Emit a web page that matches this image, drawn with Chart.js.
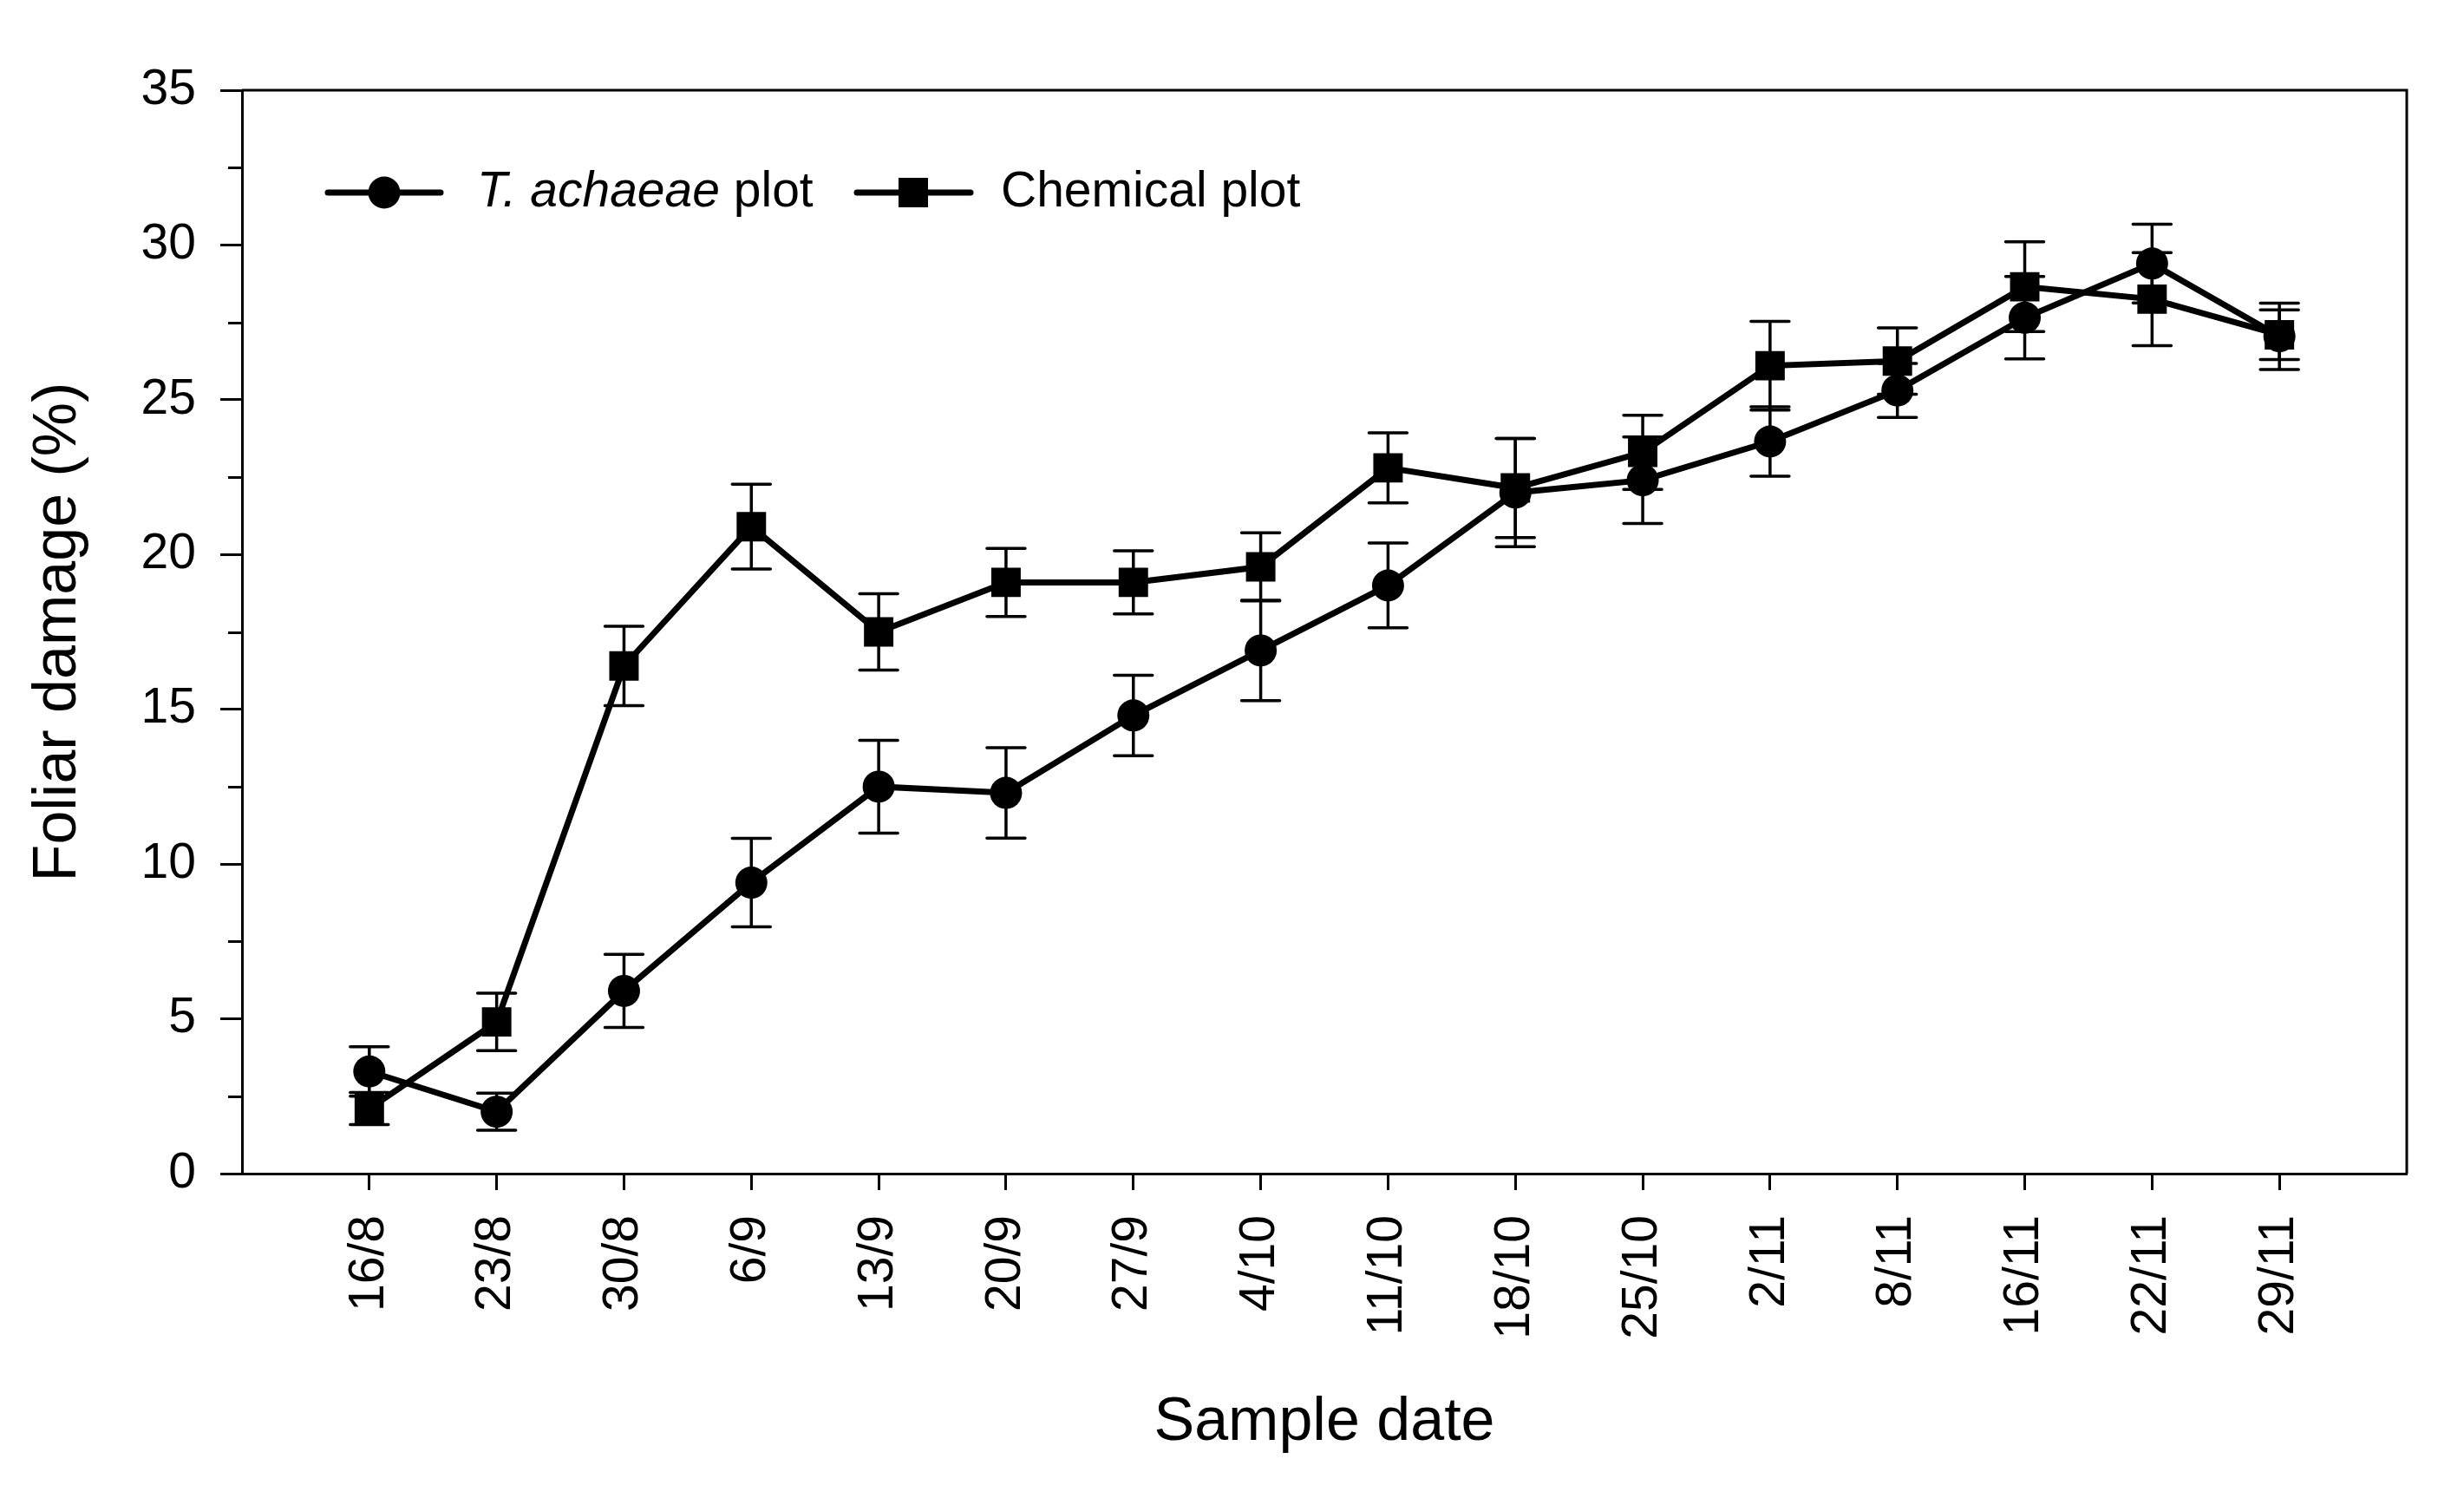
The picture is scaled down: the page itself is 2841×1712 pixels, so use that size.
<!DOCTYPE html>
<html>
<head>
<meta charset="utf-8">
<script src="https://cdn.jsdelivr.net/npm/chart.js@4/dist/chart.umd.min.js"></script>
<style>
  html, body { margin: 0; padding: 0; background: #ffffff; }
  #wrap { width: 2841px; height: 1712px; }
</style>
</head>
<body>
<div id="wrap"><canvas id="c" width="2841" height="1712"></canvas></div>
<script>
// ---- data ----
const categories = ['16/8','23/8','30/8','6/9','13/9','20/9','27/9','4/10','11/10','18/10','25/10','2/11','8/11','16/11','22/11','29/11'];
const tAchaeae    = [3.3, 2.0, 5.9, 9.4, 12.5, 12.3, 14.8, 16.9, 19.0, 22.0, 22.4, 23.65, 25.3, 27.65, 29.4, 27.05];
const tAchaeaeErr = [0.8, 0.6, 1.18, 1.43, 1.5, 1.46, 1.3, 1.62, 1.37, 1.75, 1.4, 1.12, 0.87, 1.33, 1.27, 1.07];
const chemical    = [2.1, 4.9, 16.4, 20.9, 17.5, 19.1, 19.1, 19.6, 22.8, 22.15, 23.3, 26.1, 26.25, 28.65, 28.25, 27.1];
const chemicalErr = [0.52, 0.93, 1.28, 1.37, 1.23, 1.1, 1.02, 1.1, 1.13, 1.6, 1.2, 1.43, 1.07, 1.45, 1.5, 0.8];
const yTicks = [0, 5, 10, 15, 20, 25, 30, 35];
const yMinorTicks = [2.5, 7.5, 12.5, 17.5, 22.5, 27.5, 32.5];
const seriesNames = ['T. achaeae', 'Chemical plot'];

const FONT = "'Liberation Sans', Arial, Helvetica, sans-serif";

const toPoints = (arr) => arr.map((v, i) => ({ x: i + 1, y: v }));

const errorBars = {
  id: 'errorBars',
  beforeDatasetsDraw(chart) {
    const ctx = chart.ctx;
    const xs = chart.scales.x, ys = chart.scales.y;
    const sets = [[tAchaeae, tAchaeaeErr], [chemical, chemicalErr]];
    ctx.save();
    ctx.strokeStyle = '#000';
    ctx.lineWidth = 3.5;
    ctx.lineCap = 'round';
    sets.forEach(([vals, errs]) => {
      vals.forEach((v, i) => {
        const px = xs.getPixelForValue(i + 1);
        const top = ys.getPixelForValue(v + errs[i]);
        const bot = ys.getPixelForValue(v - errs[i]);
        ctx.beginPath();
        ctx.moveTo(px, top); ctx.lineTo(px, bot);
        ctx.moveTo(px - 22, top); ctx.lineTo(px + 22, top);
        ctx.moveTo(px - 22, bot); ctx.lineTo(px + 22, bot);
        ctx.stroke();
      });
    });
    ctx.restore();
  }
};

const frameAndExtras = {
  id: 'frameAndExtras',
  afterDraw(chart) {
    const ctx = chart.ctx;
    const a = chart.chartArea;
    const ys = chart.scales.y;
    ctx.save();
    ctx.strokeStyle = '#000';
    ctx.lineWidth = 3;
    ctx.lineCap = 'butt';
    // top & right frame lines
    ctx.beginPath();
    ctx.moveTo(a.left, a.top); ctx.lineTo(a.right, a.top);
    ctx.lineTo(a.right, a.bottom);
    ctx.stroke();
    // minor y ticks
    ctx.beginPath();
    yMinorTicks.forEach(v => {
      const py = Math.round(ys.getPixelForValue(v)) + 0.5;
      ctx.moveTo(a.left - 16, py); ctx.lineTo(a.left, py);
    });
    ctx.stroke();

    // legend
    const ly = 222;
    ctx.lineWidth = 7;
    ctx.lineCap = 'round';
    ctx.beginPath(); ctx.moveTo(378, ly); ctx.lineTo(508, ly); ctx.stroke();
    ctx.fillStyle = '#000';
    ctx.beginPath(); ctx.arc(443, ly, 18.5, 0, Math.PI * 2); ctx.fill();
    ctx.beginPath(); ctx.moveTo(988, ly); ctx.lineTo(1119, ly); ctx.stroke();
    ctx.fillRect(1053 - 17, ly - 17, 34, 34);

    ctx.textBaseline = 'middle';
    ctx.textAlign = 'left';
    ctx.font = 'italic 57px ' + FONT;
    ctx.fillText(seriesNames[0], 550, ly);
    const w = ctx.measureText(seriesNames[0]).width;
    ctx.font = '57px ' + FONT;
    ctx.fillText(' plot', 550 + w, ly);
    ctx.fillText(seriesNames[1], 1154, ly);
    ctx.restore();
  }
};

const ctx = document.getElementById('c').getContext('2d');
new Chart(ctx, {
  type: 'line',
  data: {
    datasets: [
      {
        label: seriesNames[0] + ' plot',
        data: toPoints(tAchaeae),
        borderColor: '#000',
        backgroundColor: '#000',
        borderWidth: 7,
        pointStyle: 'circle',
        pointRadius: 18.5,
        pointBorderWidth: 0,
        pointBackgroundColor: '#000',
        tension: 0,
        order: 1
      },
      {
        label: seriesNames[1],
        data: toPoints(chemical),
        borderColor: '#000',
        backgroundColor: '#000',
        borderWidth: 7,
        pointStyle: 'rect',
        pointRadius: 24,
        pointBorderWidth: 0,
        pointBackgroundColor: '#000',
        tension: 0,
        order: 2
      }
    ]
  },
  options: {
    responsive: false,
    animation: false,
    devicePixelRatio: 1,
    layout: { padding: { left: 0, top: 104, right: 66, bottom: 0 } },
    plugins: {
      legend: { display: false },
      tooltip: { enabled: false }
    },
    scales: {
      x: {
        type: 'linear',
        min: 0,
        max: 17,
        afterBuildTicks: (scale) => {
          scale.ticks = categories.map((c, i) => ({ value: i + 1 }));
        },
        afterFit: (scale) => { scale.height = 1712 - 1353; },
        ticks: {
          autoSkip: false,
          minRotation: 90,
          maxRotation: 90,
          padding: 29,
          color: '#000',
          font: { family: FONT, size: 57 },
          callback: (v) => categories[v - 1] ?? ''
        },
        grid: {
          drawOnChartArea: false,
          drawTicks: true,
          tickLength: 19,
          tickWidth: 3,
          tickColor: '#000'
        },
        border: { display: true, color: '#000', width: 3 },
        title: {
          display: true,
          text: 'Sample date',
          color: '#000',
          font: { family: FONT, size: 70, lineHeight: 1.2 },
          padding: { top: 0, bottom: 29 }
        }
      },
      y: {
        type: 'linear',
        min: 0,
        max: 35,
        afterBuildTicks: (scale) => {
          scale.ticks = yTicks.map(v => ({ value: v }));
        },
        afterFit: (scale) => { scale.width = 279; },
        ticks: {
          padding: 28,
          color: '#000',
          font: { family: FONT, size: 57 },
          callback: (v) => String(v)
        },
        grid: {
          drawOnChartArea: false,
          drawTicks: true,
          tickLength: 25,
          tickWidth: 3,
          tickColor: '#000'
        },
        border: { display: true, color: '#000', width: 3 },
        title: {
          display: true,
          text: 'Foliar damage (%)',
          color: '#000',
          font: { family: FONT, size: 70, lineHeight: 1.2 },
          padding: { top: 26, bottom: 0 }
        }
      }
    }
  },
  plugins: [errorBars, frameAndExtras]
});
</script>
</body>
</html>
